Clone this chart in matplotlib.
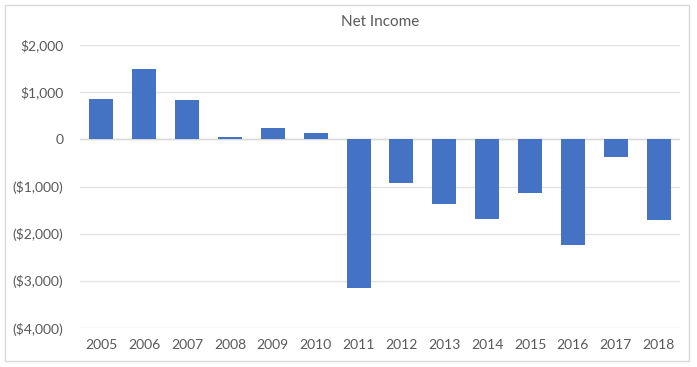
import matplotlib.pyplot as plt
from matplotlib.patches import Rectangle
from matplotlib.ticker import FuncFormatter

years = ['2005', '2006', '2007', '2008', '2009', '2010', '2011',
         '2012', '2013', '2014', '2015', '2016', '2017', '2018']
net_income = [855, 1494, 834, 60, 230, 132, -3145,
              -925, -1366, -1685, -1132, -2238, -379, -1706]

plt.rcParams['font.family'] = ['Lato', 'DejaVu Sans']

W, H = 697, 367
fig = plt.figure(figsize=(W / 100, H / 100), dpi=100)

# outer chart border
fig.patches.append(Rectangle((5 / W, 1 - 361 / H), 684 / W, 356 / H,
                             transform=fig.transFigure, fill=False,
                             edgecolor='#D9D9D9', linewidth=1))

ax = fig.add_axes([80 / W, 1 - 328 / H, 600 / W, 283 / H])
x = range(len(years))
ax.bar(x, net_income, width=0.56, color='#4472C4', zorder=3)

ax.set_xlim(-0.5, len(years) - 0.5)
ax.set_ylim(-4000, 2000)
ax.set_yticks(range(-4000, 2001, 1000))


def money(v, pos):
    v = int(round(v))
    if v == 0:
        return '0'
    if v < 0:
        return '(${:,})'.format(-v)
    return '${:,}'.format(v)


ax.yaxis.set_major_formatter(FuncFormatter(money))
ax.set_xticks(list(x))
ax.set_xticklabels(years)
ax.grid(axis='y', color='#E3E3E3', linewidth=1, zorder=0)
ax.axhline(0, color='#D9D9D9', linewidth=1, zorder=2)

for s in ax.spines.values():
    s.set_visible(False)
ax.tick_params(length=0, labelsize=10, colors='#595959')
ax.tick_params(axis='y', pad=12)
ax.tick_params(axis='x', pad=8)

ax.set_title('Net Income', fontsize=11, color='#595959', pad=14)

fig.savefig('out.png', dpi=100)
